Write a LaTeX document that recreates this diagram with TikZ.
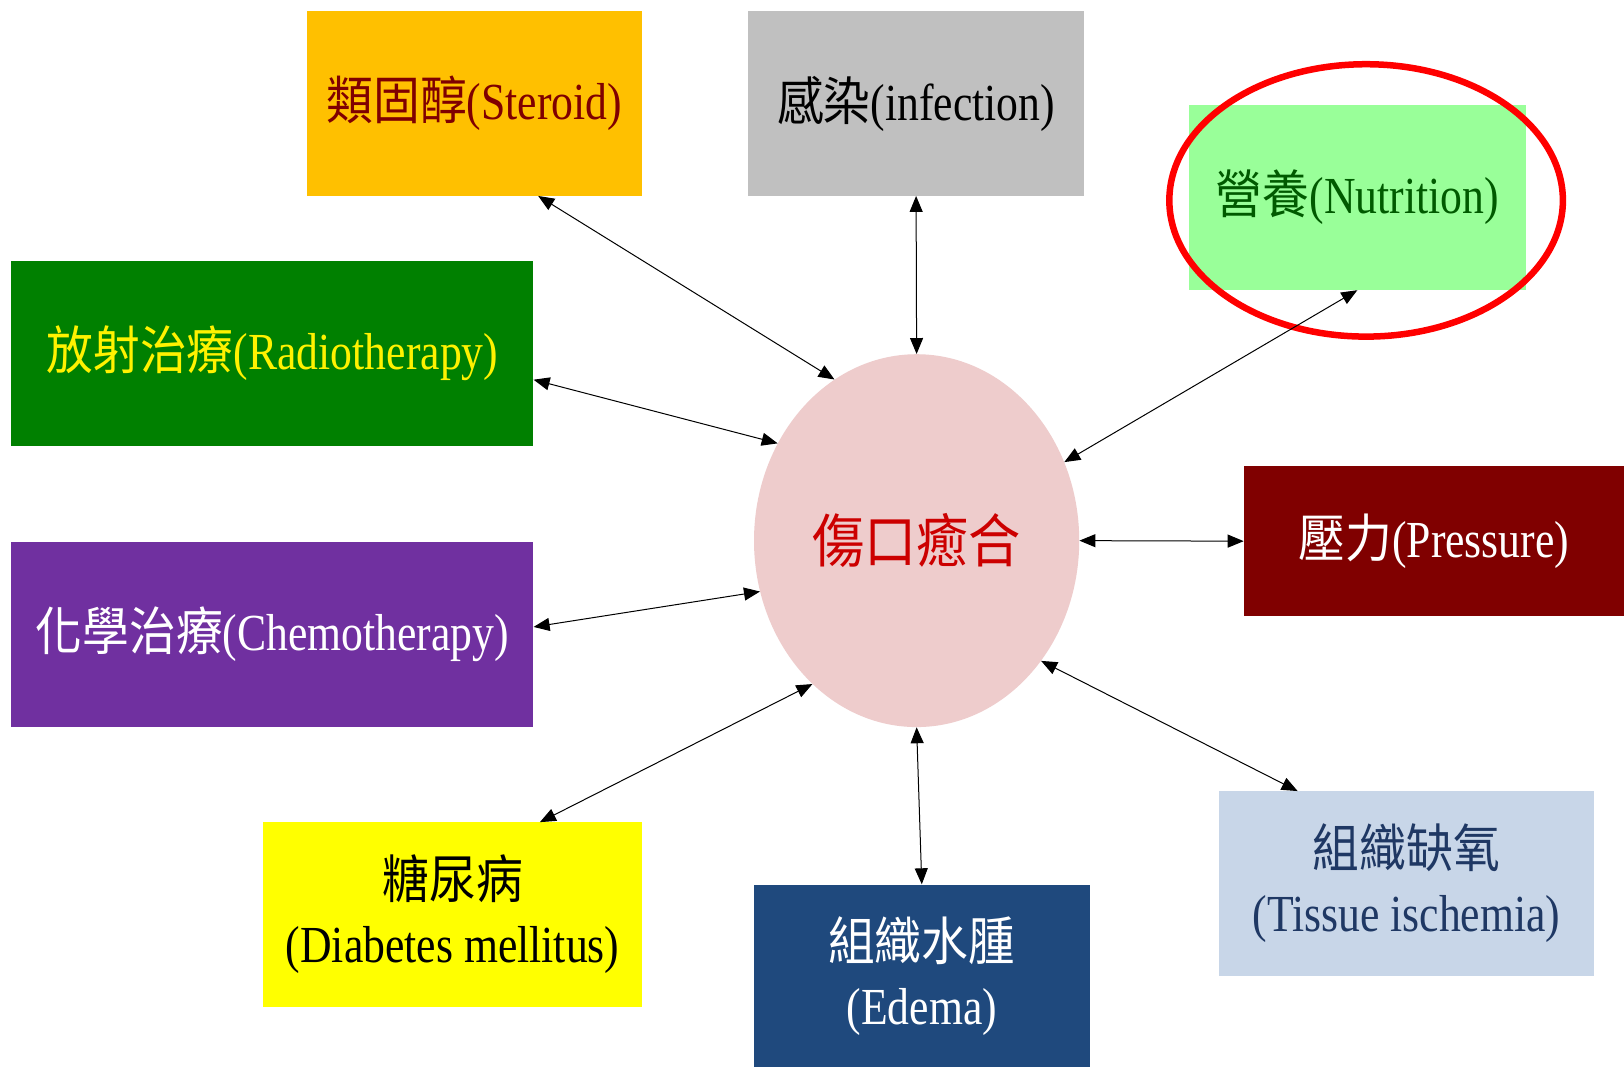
\documentclass[tikz,border=0pt]{standalone}
\usepackage{fontspec}
\setmainfont{Liberation Serif}[FakeStretch=0.84]
\newfontfamily\cjk{Noto Sans CJK TC}[FakeStretch=0.9]
\newcommand\zh[1]{{\cjk #1}}
\usetikzlibrary{shapes.geometric,arrows.meta,calc}
\definecolor{cSteroid}{HTML}{FFC000}
\definecolor{cSteroidT}{HTML}{7F0000}
\definecolor{cInfect}{HTML}{C0C0C0}
\definecolor{cNutri}{HTML}{99FF99}
\definecolor{cNutriT}{HTML}{005A00}
\definecolor{cRadio}{HTML}{008000}
\definecolor{cPress}{HTML}{800000}
\definecolor{cChemo}{HTML}{7030A0}
\definecolor{cDiab}{HTML}{FFFF00}
\definecolor{cEdema}{HTML}{1F497D}
\definecolor{cTissue}{HTML}{C8D6E8}
\definecolor{cTissueT}{HTML}{1F3864}
\definecolor{cHub}{HTML}{EECCCC}
\definecolor{cHubT}{HTML}{CC0000}
\begin{document}
\begin{tikzpicture}[x=1.0357pt,y=-1.0357pt,
  box/.style={rectangle,draw=none,inner sep=0pt,align=center,
    font=\fontsize{52}{64}\selectfont},
  link/.style={{Triangle[width=13pt,length=16pt]}-{Triangle[width=13pt,length=16pt]},line width=1pt,black}]
\useasboundingbox (0,0) rectangle (1568,1030);
\fill[white] (0,0) rectangle (1568,1030);
% boxes
\node[box,fill=cSteroid,text=cSteroidT,minimum width=324*1.0357pt,minimum height=178*1.0357pt] (steroid) at (458,100) {\zh{類固醇}(Steroid)};
\node[box,fill=cInfect,text=black,minimum width=325*1.0357pt,minimum height=178*1.0357pt] (infect) at (884.5,100) {\zh{感染}(infection)};
\node[box,fill=cNutri,text=cNutriT,minimum width=325*1.0357pt,minimum height=179*1.0357pt] (nutri) at (1310.5,190.5) {\zh{營養}(Nutrition)};
\node[box,fill=cRadio,text=yellow,minimum width=504*1.0357pt,minimum height=179*1.0357pt] (radio) at (263,341.5) {\zh{放射治療}(Radiotherapy)};
\node[box,fill=cPress,text=white,minimum width=367*1.0357pt,minimum height=145*1.0357pt] (press) at (1384.5,522.5) {\zh{壓力}(Pressure)};
\node[box,fill=cChemo,text=white,minimum width=504*1.0357pt,minimum height=179*1.0357pt] (chemo) at (263,612.5) {\zh{化學治療}(Chemotherapy)};
\node[box,fill=cDiab,text=black,minimum width=366*1.0357pt,minimum height=178*1.0357pt] (diab) at (437,883) {\zh{糖尿病}\\(Diabetes mellitus)};
\node[box,fill=cEdema,text=white,minimum width=324*1.0357pt,minimum height=176*1.0357pt] (edema) at (890,942) {\zh{組織水腫}\\(Edema)};
\node[box,fill=cTissue,text=cTissueT,minimum width=362*1.0357pt,minimum height=178*1.0357pt] (tissue) at (1358,853) {\zh{組織缺氧}\\(Tissue ischemia)};
% hub
\node[ellipse,fill=cHub,draw=none,inner sep=0pt,minimum width=314*1.0357pt,minimum height=360*1.0357pt,text=cHubT,font=\fontsize{58}{64}\selectfont] (hub) at (885,522) {\zh{傷口癒合}};
% highlight ellipse
\node[ellipse,draw=red,line width=6.5pt,fill=none,minimum width=380*1.0357pt,minimum height=263*1.0357pt] (ring) at (1319,193.5) {};
% connectors
\draw[link] ($(steroid.south west)!0.69!(steroid.south east)$) -- (hub.117);
\draw[link] (infect.south) -- (hub.90);
\draw[link] (nutri.south) -- (hub.28);
\draw[link] ($(radio.north east)!0.64!(radio.south east)$) -- (hub.145);
\draw[link] (press.west) -- (hub.0);
\draw[link] ($(chemo.north east)!0.46!(chemo.south east)$) -- (hub.198);
\draw[link] ($(diab.north west)!0.73!(diab.north east)$) -- (hub.234);
\draw[link] (edema.north) -- (hub.270);
\draw[link] ($(tissue.north west)!0.21!(tissue.north east)$) -- (hub.316);
\end{tikzpicture}
\end{document}
